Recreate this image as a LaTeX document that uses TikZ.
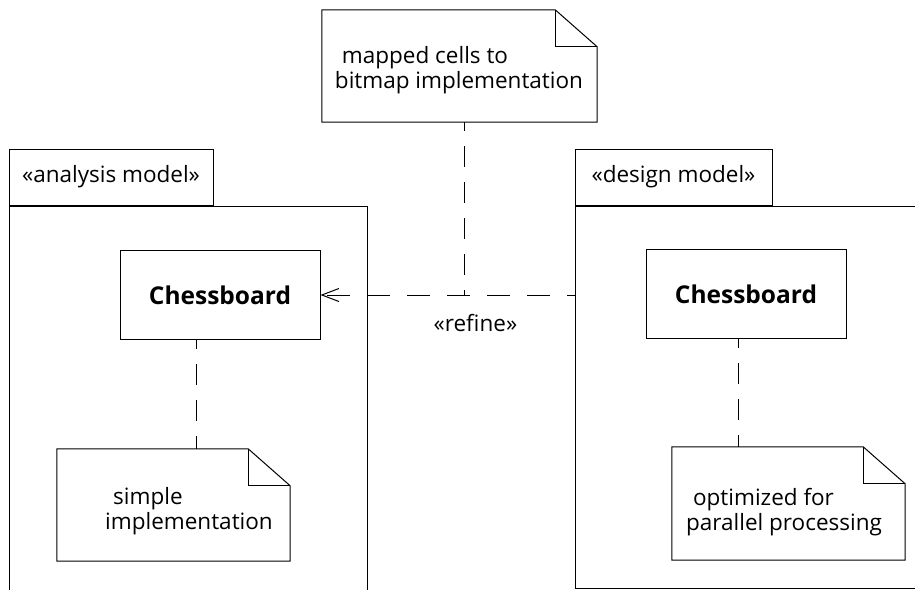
\documentclass[tikz,border=0pt]{standalone}
\usepackage{fontspec}
\setmainfont{Open Sans}
\usepackage{tikz}
\usetikzlibrary{arrows.meta}

\newcommand{\notefold}[1]{%
  \draw[noteline] (#1.north west) -- ([xshift=-42pt]#1.north east) -- ([yshift=-37pt]#1.north east)
    -- (#1.south east) -- (#1.south west) -- cycle;
  \draw[noteline] ([xshift=-42pt]#1.north east) |- ([yshift=-37pt]#1.north east);}

\begin{document}
\begin{tikzpicture}[x=1pt,y=-1pt,
 txt/.style={font=\fontsize{22.5}{24.5}\selectfont},
 pkgbody/.style={draw,line width=1pt,inner sep=0pt},
 pkgtab/.style={pkgbody,txt,anchor=south west,minimum height=56pt},
 cls/.style={draw,line width=1pt,inner sep=0pt,minimum width=200pt,minimum height=89pt,
             font=\fontsize{24.5}{26}\selectfont\bfseries},
 note/.style={inner sep=0pt},
 notetext/.style={txt,align=left,inner sep=0pt},
 noteline/.style={line width=1pt,line join=miter},
 dep/.style={line width=1pt,dash pattern=on 21pt off 15pt,dash phase=12pt},
 refine/.style={line width=1pt,dash pattern=on 23pt off 17pt,dash phase=15pt,
                -{Straight Barb[length=17pt,width=13pt,line width=1pt]}}
]
\useasboundingbox (0,0) rectangle (915,589);
\clip (0,0) rectangle (915,589);

\node[pkgbody,minimum width=358pt,minimum height=434pt] (anabody) at (188,423) {};
\node[pkgtab,minimum width=204pt] (anatab) at (anabody.north west) {«analysis model»};
\node[pkgbody,minimum width=385pt,minimum height=382pt] (desbody) at (767.5,397) {};
\node[pkgtab,minimum width=197pt] (destab) at (desbody.north west) {«design model»};

\node[cls] (anaboard) at (220,295) {Chessboard};
\node[cls] (desboard) at (746,294) {Chessboard};

\node[note,minimum width=275pt,minimum height=112pt] (mapnote) at (459.5,66) {};
\node[notetext] (maptext) at (459,70) {\hspace*{7pt}mapped cells to\\bitmap implementation};
\node[note,minimum width=233pt,minimum height=112pt] (simplenote) at (173.5,505) {};
\node[notetext] (simpletext) at (189,511) {\hspace*{8pt}simple\\implementation};
\node[note,minimum width=233pt,minimum height=113pt] (optnote) at (788.5,503.5) {};
\node[notetext] (opttext) at (784,512) {\hspace*{7pt}optimized for\\parallel processing};
\notefold{mapnote}
\notefold{simplenote}
\notefold{optnote}

\coordinate (join) at (464,295);
\draw[refine] (anaboard.east -| desbody.west) -- (anaboard.east)
  node[txt,pos=0.39,yshift=-28pt] (refinelbl) {«refine»};
\draw[dep] (mapnote.south -| join) -- (join);
\draw[dep] ([xshift=-24pt]anaboard.south) -- ([xshift=-24pt]anaboard.south |- simplenote.north);
\draw[dep] ([xshift=-8pt]desboard.south) -- ([xshift=-8pt]desboard.south |- optnote.north);
\end{tikzpicture}
\end{document}
